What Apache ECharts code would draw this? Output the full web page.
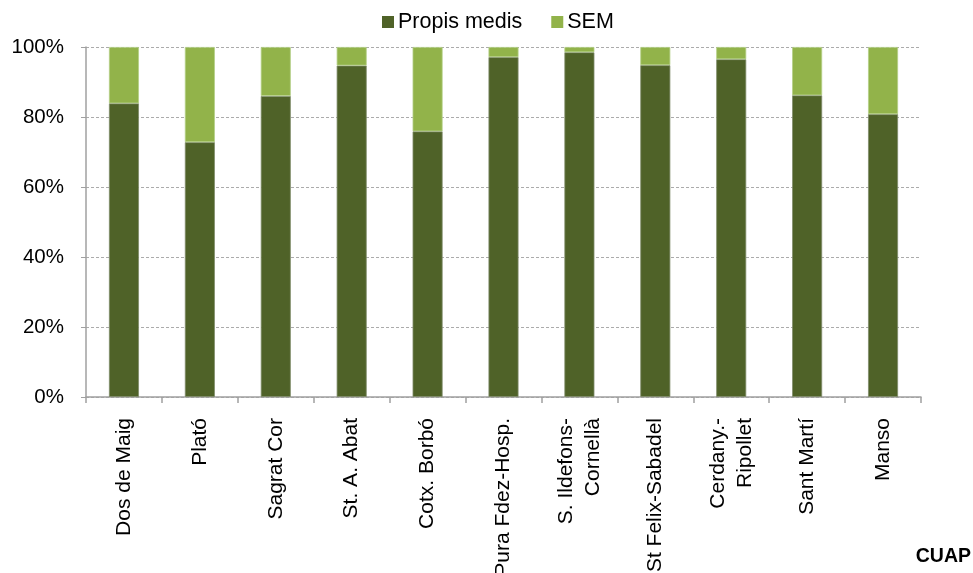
<!DOCTYPE html>
<html>
<head>
<meta charset="utf-8">
<script src="https://cdn.jsdelivr.net/npm/echarts@6/dist/echarts.min.js"></script>
<style>
html,body{margin:0;padding:0;background:#fff;}
#chart{width:973px;height:573px;}
</style>
</head>
<body>
<div id="chart"></div>
<script>
const categories = ['Dos de Maig','Plató','Sagrat Cor','St. A. Abat','Cotx. Borbó','Pura Fdez-Hosp.','S. Ildefons-\nCornellà','St Felix-Sabadel','Cerdany.-\nRipollet','Sant Martí','Manso'];
const propisMedis = [83.9, 72.8, 86.0, 94.7, 75.9, 97.1, 98.5, 94.8, 96.5, 86.2, 80.8];
const sem = [16.1, 27.2, 14.0, 5.3, 24.1, 2.9, 1.5, 5.2, 3.5, 13.8, 19.2];
const yTicks = [0, 20, 40, 60, 80, 100];

const FONT = '"Liberation Sans", Arial, sans-serif';
const chart = echarts.init(document.getElementById('chart'));
chart.setOption({
  animation: false,
  backgroundColor: '#ffffff',
  textStyle: {fontFamily: FONT},
  legend: {
    left: 382, top: 11, padding: 0,
    icon: 'rect', itemWidth: 12, itemHeight: 12, itemGap: 29,
    itemStyle: {borderWidth: 0},
    textStyle: {fontFamily: FONT, fontSize: 21.5, color: '#000', padding: [0,0,0,-1]},
    data: ['Propis medis', 'SEM']
  },
  grid: {left: 86, right: 52, top: 47, bottom: 176, containLabel: false, outerBoundsMode: 'none'},
  xAxis: {
    type: 'category',
    data: categories,
    axisLine: {lineStyle: {color: '#A0A0A0', width: 1.5}},
    axisTick: {show: true, length: 6, lineStyle: {color: '#A0A0A0', width: 1.5}},
    axisLabel: {rotate: 90, margin: 21, interval: 0, fontFamily: FONT, fontSize: 21, color: '#000', lineHeight: 27}
  },
  yAxis: {
    type: 'value', min: yTicks[0], max: yTicks[yTicks.length-1], interval: 20,
    axisLine: {show: true, lineStyle: {color: '#A0A0A0', width: 1.5}},
    axisTick: {show: true, length: 5, lineStyle: {color: '#A0A0A0'}},
    axisLabel: {margin: 22, formatter: v => v + '%', fontFamily: FONT, fontSize: 20.5, color: '#000'},
    splitLine: {show: true, lineStyle: {color: '#ABABAB', type: [3, 2], width: 1.2}}
  },
  series: [
    {name: 'Propis medis', type: 'bar', stack: 'a', data: propisMedis, barWidth: 30,
     itemStyle: {color: '#4F6228', borderColor: '#7f8c6a', borderWidth: 0.8}},
    {name: 'SEM', type: 'bar', stack: 'a', data: sem, barWidth: 30,
     itemStyle: {color: '#92B34A', borderColor: '#b4cf86', borderWidth: 0.8}}
  ],
  graphic: [{
    type: 'text', right: 2, top: 547,
    style: {text: 'CUAP', fontFamily: FONT, fontSize: 19.5, fontWeight: 'bold', fill: '#000'}
  }]
});
</script>
</body>
</html>
